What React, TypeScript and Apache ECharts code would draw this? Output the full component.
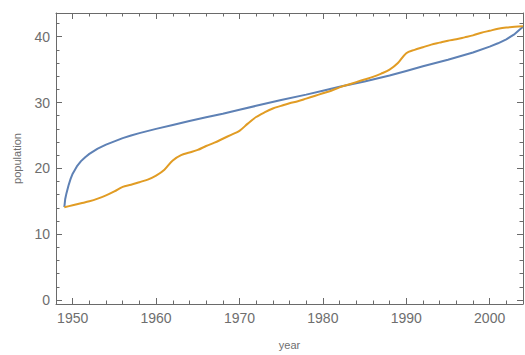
import React, { useEffect, useRef } from "react";
import * as echarts from "echarts";

const observedYears = [
  1949, 1950, 1951, 1952, 1953, 1954, 1955, 1956, 1957, 1958, 1959, 1960, 1961, 1962,
  1963, 1964, 1965, 1966, 1967, 1968, 1969, 1970, 1971, 1972, 1973, 1974, 1975, 1976,
  1977, 1978, 1979, 1980, 1981, 1982, 1983, 1984, 1985, 1986, 1987, 1988, 1989, 1990,
  1991, 1992, 1993, 1994, 1995, 1996, 1997, 1998, 1999, 2000, 2001, 2002, 2003, 2004,
];
const observedPopulation = [
  14.1, 14.4, 14.7, 15.0, 15.4, 15.9, 16.5, 17.2, 17.5, 17.9, 18.3, 18.9, 19.8, 21.2,
  22.0, 22.4, 22.8, 23.4, 23.9, 24.5, 25.1, 25.7, 26.8, 27.8, 28.5, 29.1, 29.5, 29.9,
  30.2, 30.6, 31.0, 31.4, 31.8, 32.3, 32.7, 33.1, 33.5, 33.9, 34.4, 35.0, 36.0, 37.5,
  38.0, 38.4, 38.8, 39.1, 39.4, 39.6, 39.9, 40.2, 40.6, 40.9, 41.2, 41.4, 41.5, 41.6,
];

const fitYears = [
  1949, 1949.1, 1949.25, 1949.5, 1949.75, 1950, 1950.5, 1951, 1951.5, 1952, 1953, 1954,
  1955, 1956, 1957, 1958, 1960, 1962, 1964, 1966, 1968, 1970, 1972, 1975, 1978, 1980,
  1982, 1985, 1988, 1990, 1992, 1995, 1998, 2000, 2001, 2002, 2003, 2004,
];
const fitPopulation = [
  14.1, 15.3, 16.2, 17.4, 18.4, 19.2, 20.3, 21.1, 21.7, 22.2, 23.0, 23.6,
  24.1, 24.6, 25.0, 25.35, 26.0, 26.6, 27.2, 27.75, 28.3, 28.9, 29.5, 30.4, 31.2, 31.8,
  32.4, 33.2, 34.1, 34.8, 35.5, 36.5, 37.6, 38.5, 39.0, 39.6, 40.4, 41.5,
];

const xMajorTicks = [1950, 1960, 1970, 1980, 1990, 2000];
const xMinorTicks = [
  1948, 1952, 1954, 1956, 1958, 1962, 1964, 1966, 1968, 1972, 1974, 1976, 1978, 1982,
  1984, 1986, 1988, 1992, 1994, 1996, 1998, 2002, 2004,
];
const yMajorTicks = [0, 10, 20, 30, 40];
const yMinorTicks = [2, 4, 6, 8, 12, 14, 16, 18, 22, 24, 26, 28, 32, 34, 36, 38, 42];

const X_MIN = 1948;
const X_MAX = 2004;
const Y_MIN = -0.6;
const Y_MAX = 43.6;

const AXIS_COLOR = "#6a6a6a";
const LABEL_COLOR = "#6e6e6e";
const FONT = "Liberation Sans, Arial, sans-serif";

export default function App() {
  const ref = useRef<HTMLDivElement>(null);

  useEffect(() => {
    if (!ref.current) return;
    const chart = echarts.init(ref.current, undefined, { renderer: "svg" });

    const xBase = (position: "bottom" | "top", ticks: number[], len: number, showLine: boolean, showLabel: boolean, withName: boolean) => ({
      type: "value",
      position,
      min: X_MIN,
      max: X_MAX,
      name: withName ? "year" : "",
      nameLocation: "middle",
      nameGap: 35,
      nameTextStyle: { color: LABEL_COLOR, fontSize: 11, fontFamily: FONT },
      axisLine: { show: showLine, onZero: false, lineStyle: { color: AXIS_COLOR, width: 1 } },
      axisTick: { show: true, inside: true, length: len, customValues: ticks, lineStyle: { color: AXIS_COLOR, width: 1 } },
      axisLabel: showLabel
        ? { show: true, customValues: ticks, formatter: (v: number) => String(v), color: LABEL_COLOR, fontSize: 14, fontFamily: FONT, margin: 7 }
        : { show: false },
      splitLine: { show: false },
    });

    const yBase = (position: "left" | "right", ticks: number[], len: number, showLine: boolean, showLabel: boolean, withName: boolean) => ({
      type: "value",
      position,
      min: Y_MIN,
      max: Y_MAX,
      name: withName ? "population" : "",
      nameLocation: "middle",
      nameGap: 34,
      nameTextStyle: { color: LABEL_COLOR, fontSize: 11, fontFamily: FONT },
      axisLine: { show: showLine, onZero: false, lineStyle: { color: AXIS_COLOR, width: 1 } },
      axisTick: { show: true, inside: true, length: len, customValues: ticks, lineStyle: { color: AXIS_COLOR, width: 1 } },
      axisLabel: showLabel
        ? { show: true, customValues: ticks, formatter: (v: number) => String(v), color: LABEL_COLOR, fontSize: 14, fontFamily: FONT, margin: 6 }
        : { show: false },
      splitLine: { show: false },
    });

    chart.setOption({
      animation: false,
      backgroundColor: "#fff",
      grid: { left: 56, right: 2, top: 13, bottom: 48.5, containLabel: false },
      xAxis: [
        xBase("bottom", xMajorTicks, 6, true, true, true),
        xBase("bottom", xMinorTicks, 3.5, false, false, false),
        xBase("top", xMajorTicks, 6, true, false, false),
        xBase("top", xMinorTicks, 3.5, false, false, false),
      ],
      yAxis: [
        yBase("left", yMajorTicks, 6, true, true, true),
        yBase("left", yMinorTicks, 3.5, false, false, false),
        yBase("right", yMajorTicks, 6, true, false, false),
        yBase("right", yMinorTicks, 3.5, false, false, false),
      ],
      series: [
        {
          type: "line",
          name: "fit",
          xAxisIndex: 0,
          yAxisIndex: 0,
          data: fitYears.map((x, i) => [x, fitPopulation[i]]),
          smooth: false,
          showSymbol: false,
          lineStyle: { color: "#5E81B5", width: 2 },
          z: 3,
        },
        {
          type: "line",
          name: "observed",
          xAxisIndex: 0,
          yAxisIndex: 0,
          data: observedYears.map((x, i) => [x, observedPopulation[i]]),
          smooth: 0.3,
          showSymbol: false,
          lineStyle: { color: "#E19C24", width: 2 },
          z: 4,
        },
      ],
    });

    return () => chart.dispose();
  }, []);

  return <div ref={ref} style={{ width: 525, height: 355, position: "absolute", left: 0, top: 0 }} />;
}
